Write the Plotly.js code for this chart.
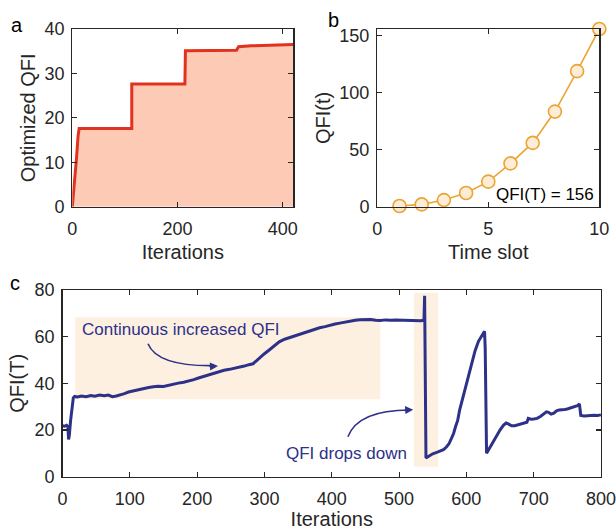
<!DOCTYPE html>
<html>
<head>
<meta charset="utf-8">
<script src="https://cdn.plot.ly/plotly-3.0.1.min.js"></script>
<style>html,body{margin:0;padding:0;background:#fff}#chart{width:616px;height:530px}</style>
</head>
<body>
<div id="chart"></div>
<script>
// Panel a: optimized QFI vs iterations
const iterA = [0, 4, 8, 11, 13, 113, 113, 214, 215, 312, 316, 340, 380, 420];
const qfiA  = [0, 5, 11, 16, 17.6, 17.6, 27.6, 27.6, 35.1, 35.2, 36.0, 36.2, 36.4, 36.5];

// Panel b: QFI per time slot
const slotB = [1, 2, 3, 4, 5, 6, 7, 8, 9, 10];
const qfiB  = [0.6, 2, 5.8, 12, 22, 38, 56, 83.5, 119, 156];

// Panel c: QFI(T) vs iterations
const iterC = [0,3,6,8,9,10,12,14,16,18,22,28,35,42,48,55,62,68,74,80,86,92,98,105,112,120,128,135,142,150,158,165,172,180,188,195,202,210,218,225,232,240,248,255,262,270,277,283,288,293,300,308,315,322,330,338,345,352,360,368,375,382,390,398,405,412,420,428,435,442,450,458,465,472,480,488,495,502,510,518,525,532,537,538,540,545,550,556,562,566,570,574,578,581,584,587,590,594,598,603,608,613,618,622,625,627,628,630,635,640,645,650,655,659,663,667,672,678,684,688,690,692,696,700,705,710,715,719,722,726,730,734,738,742,746,750,755,760,765,768,769,770,775,780,785,790,795,800];
const qfiC  = [21.8,21.6,22,21.5,16,17.5,24,30,33.8,34.4,34.2,34.6,34.3,34.8,34.5,35,34.7,35,34.3,34.6,35,35.6,36.3,36.8,37.1,37.7,38.2,38.5,38.8,38.7,39.3,39.8,40.1,40.5,41,41.6,42.3,43,43.6,44.2,44.8,45.6,46,46.4,46.7,47.4,48,48.4,49.6,51,52.7,54.5,56.3,57.8,58.9,59.7,60.4,61,61.7,62.4,63.2,63.8,64.3,65,65.4,65.8,66.3,66.6,67,67.3,67.5,67.4,67,66.9,67.2,67,67.2,67.1,66.9,67,66.9,66.8,67,77.5,8,9,9.8,10.4,11,11.6,12.6,14,16.5,18.5,21.5,24,28.5,33,37.5,43.5,49,54,58,60,61.5,62.3,55,10,12.5,15,17.8,20,22,23,22.5,21.8,21.8,22.2,22.6,23,23.3,25,24.6,24.7,25,25.8,26.8,27.8,27.6,26.8,27.2,28.2,28.6,28.6,28.8,29,29.5,30,30.4,31.2,26.5,26.2,26,26.2,26.1,26.3,26.2,26.5];

const ticksA_x = [0, 200, 400];
const ticksA_y = [0, 10, 20, 30, 40];
const ticksB_x = [0, 5, 10];
const ticksB_y = [0, 50, 100, 150];
const ticksC_x = [0, 100, 200, 300, 400, 500, 600, 700, 800];
const ticksC_y = [0, 20, 40, 60, 80];

const FONT = 'Liberation Sans, Arial, Helvetica, sans-serif';
const INK = '#262626';
const NAVY = '#2d3188';

function ax(extra) {
  return Object.assign({
    showgrid: false, zeroline: false, showline: true, mirror: 'ticks',
    linecolor: INK, linewidth: 1.3, ticks: 'inside', ticklen: 5, tickwidth: 1.1,
    tickcolor: INK, tickmode: 'array',
    tickfont: {family: FONT, size: 18, color: INK},
  }, extra);
}
function ttl(t, s) { return {text: t, font: {family: FONT, size: 20, color: INK}, standoff: s}; }

const traces = [
  {x: iterA, y: qfiA, type: 'scatter', mode: 'lines', fill: 'tozeroy',
   fillcolor: '#fdcab5', line: {color: '#e1321f', width: 3}, xaxis: 'x', yaxis: 'y', hoverinfo: 'skip'},
  {x: slotB, y: qfiB, type: 'scatter', mode: 'lines+markers',
   line: {color: '#e9a532', width: 1.6},
   marker: {symbol: 'circle', size: 13, color: '#feecd6', line: {color: '#e9a532', width: 1.6}},
   xaxis: 'x2', yaxis: 'y2', cliponaxis: false, hoverinfo: 'skip'},
  {x: iterC, y: qfiC, type: 'scatter', mode: 'lines',
   line: {color: NAVY, width: 3}, xaxis: 'x3', yaxis: 'y3', cliponaxis: false, hoverinfo: 'skip'}
];

const layout = {
  width: 616, height: 530,
  margin: {l: 0, r: 0, t: 0, b: 0},
  paper_bgcolor: '#fff', plot_bgcolor: 'rgba(0,0,0,0)',
  showlegend: false,
  font: {family: FONT, color: INK},
  xaxis: ax({domain: [0.1174, 0.4761], range: [0, 420], tickvals: ticksA_x, anchor: 'y', ticklabelstandoff: 5, title: ttl('Iterations', 7)}),
  yaxis: ax({domain: [0.61, 0.9453], range: [0, 40], tickvals: ticksA_y, anchor: 'x', ticklabelstandoff: 3, title: ttl('Optimized QFI', 3)}),
  xaxis2: ax({domain: [0.6125, 0.9729], range: [0, 10], tickvals: ticksB_x, anchor: 'y2', ticklabelstandoff: 5, title: ttl('Time slot', 7)}),
  yaxis2: ax({domain: [0.61, 0.9453], range: [0, 156], tickvals: ticksB_y, anchor: 'x2', ticklabelstandoff: 3, title: ttl('QFI(t)', 3)}),
  xaxis3: ax({domain: [0.1015, 0.9756], range: [0, 800], tickvals: ticksC_x, anchor: 'y3', ticklabelstandoff: 5, title: ttl('Iterations', 6)}),
  yaxis3: ax({domain: [0.1006, 0.4528], range: [0, 80], tickvals: ticksC_y, anchor: 'x3', ticklabelstandoff: 3, title: ttl('QFI(T)', 4)}),
  shapes: [
    {type: 'rect', xref: 'x3', yref: 'y3', x0: 19, x1: 472, y0: 33.2, y1: 68.3,
     fillcolor: '#fdf0e1', line: {width: 0}, layer: 'below'},
    {type: 'rect', xref: 'x3', yref: 'y3', x0: 522, x1: 558, y0: 4.3, y1: 78.8,
     fillcolor: '#fdf0e1', line: {width: 0}, layer: 'below'},
    {type: 'path', xref: 'x3', yref: 'y3', path: 'M 127,57 Q 141,47.2 226,47.6',
     line: {color: NAVY, width: 1.6}},
    {type: 'path', xref: 'x3', yref: 'y3', path: 'M 424,17.1 Q 439,28.6 516,28.6',
     line: {color: NAVY, width: 1.6}}
  ],
  annotations: [
    {xref: 'paper', yref: 'paper', x: 9/616, y: 1 - 25/530, text: 'a', showarrow: false,
     xanchor: 'left', yanchor: 'middle', font: {family: FONT, size: 20, color: '#000'}},
    {xref: 'paper', yref: 'paper', x: 326/616, y: 1 - 20/530, text: 'b', showarrow: false,
     xanchor: 'left', yanchor: 'middle', font: {family: FONT, size: 20, color: '#000'}},
    {xref: 'paper', yref: 'paper', x: 8/616, y: 1 - 283/530, text: 'c', showarrow: false,
     xanchor: 'left', yanchor: 'middle', font: {family: FONT, size: 20, color: '#000'}},
    {xref: 'x2', yref: 'y2', x: 9.85, y: 11, text: 'QFI(T) = 156', showarrow: false,
     xanchor: 'right', yanchor: 'middle', font: {family: FONT, size: 17, color: '#000'}},
    {xref: 'x3', yref: 'y3', x: 26, y: 63, text: 'Continuous increased QFI', showarrow: false,
     xanchor: 'left', yanchor: 'middle', font: {family: FONT, size: 17, color: NAVY}},
    {xref: 'x3', yref: 'y3', x: 515, y: 10, text: 'QFI drops down', showarrow: false,
     xanchor: 'right', yanchor: 'middle', font: {family: FONT, size: 17, color: NAVY}},
    {xref: 'x3', yref: 'y3', x: 231, y: 47.4, text: '', showarrow: true, ax: -10, ay: 0.5,
     arrowhead: 2, arrowsize: 1, arrowwidth: 1.6, arrowcolor: NAVY},
    {xref: 'x3', yref: 'y3', x: 521, y: 28.7, text: '', showarrow: true, ax: -10, ay: 0.5,
     arrowhead: 2, arrowsize: 1, arrowwidth: 1.6, arrowcolor: NAVY}
  ]
};

Plotly.newPlot('chart', traces, layout, {displayModeBar: false, staticPlot: true});
</script>
</body>
</html>
